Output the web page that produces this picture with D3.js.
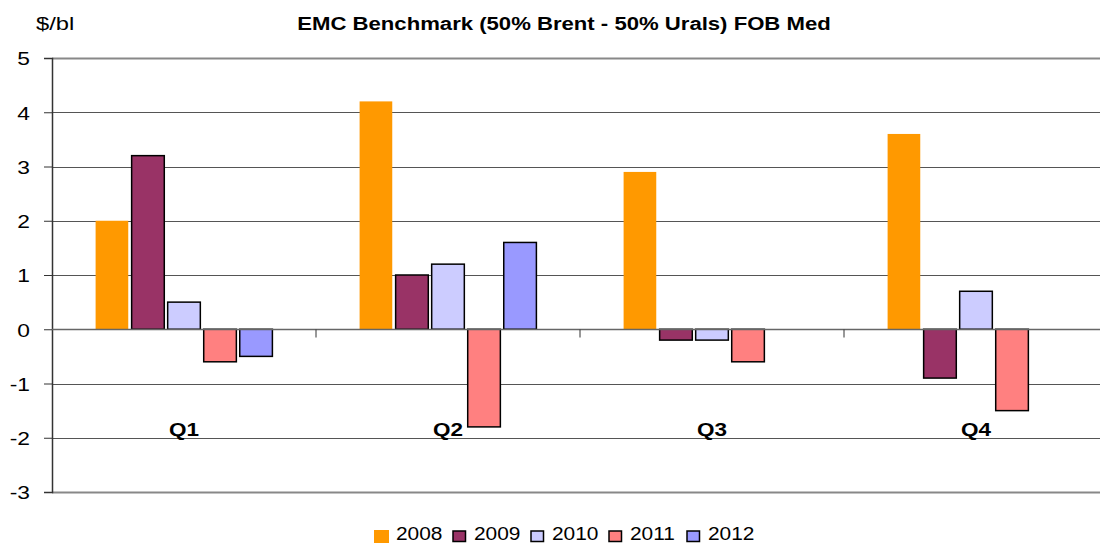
<!DOCTYPE html>
<html>
<head>
<meta charset="utf-8">
<script src="https://cdn.jsdelivr.net/npm/d3@7"></script>
<style>
  body { margin: 0; background: #fff; }
  text { font-family: "Liberation Sans", Arial, sans-serif; }
</style>
</head>
<body>
<div id="chart"></div>
<script>
// quarters and series values
const quarters = ['Q1', 'Q2', 'Q3', 'Q4']
const years = ['2008', '2009', '2010', '2011', '2012']
const v2008 = [2.0, 4.2, 2.9, 3.6]
const v2009 = [3.2, 1.0, -0.2, -0.9]
const v2010 = [0.5, 1.2, -0.2, 0.7]
const v2011 = [-0.6, -1.8, -0.6, -1.5]
const v2012 = [-0.5, 1.6, null, null]
const yTicks = [-3, -2, -1, 0, 1, 2, 3, 4, 5]

const colors = ['#FF9900', '#993366', '#CCCCFF', '#FF8080', '#9999FF']
const seriesValues = [v2008, v2009, v2010, v2011, v2012]

// build one row per quarter / year pair
const rows = []
quarters.forEach((q, qi) => {
    years.forEach((y, yi) => {
        const v = seriesValues[yi][qi]
        if (v === null) return
        rows.push({quarter: q, year: y, value: v, yi: yi})
    })
})

const width = 1100
const height = 544
const plot = {left: 52, right: 1108, top: 58, bottom: 492}

// the reference text is a bit wider than the font, stretch it sideways
const stretch = 1.23

const svg = d3.select('#chart')
    .append('svg')
    .attr('width', width)
    .attr('height', height)

const yScale = d3.scaleLinear()
    .domain([-3, 5])
    .range([plot.bottom, plot.top])

const x0 = d3.scaleBand()
    .domain(quarters)
    .range([plot.left, plot.right])

const x1 = d3.scaleBand()
    .domain(years)
    .range([0, x0.bandwidth()])
    .paddingInner(0.094)
    .paddingOuter(1.21)

// gridlines
svg.append('g')
    .selectAll('line')
    .data(yTicks)
    .enter()
    .append('line')
        .attr('x1', plot.left)
        .attr('x2', width)
        .attr('y1', d => Math.round(yScale(d)) + 0.5)
        .attr('y2', d => Math.round(yScale(d)) + 0.5)
        .attr('stroke', d => (d === 5 || d === -3) ? '#888' : '#555')
        .attr('stroke-width', d => (d === 5 || d === -3) ? 2 : 1)

// y axis
const yAxisGenerator = d3.axisLeft(yScale)
    .tickValues(yTicks)
    .tickSize(8)
    .tickFormat(d => String(d))

const yAxis = svg.append('g')
    .attr('transform', `translate(${plot.left}, 0)`)
    .call(yAxisGenerator)

yAxis.select('.domain').attr('stroke', '#333').attr('stroke-width', 1.5)
yAxis.selectAll('.tick line').attr('stroke', '#333')
yAxis.selectAll('.tick text')
    .attr('x', 0)
    .attr('dy', '0.36em')
    .attr('transform', `translate(-22, 0) scale(1.2, 1)`)
    .attr('font-size', '19px')
    .attr('fill', '#000')
    .attr('font-family', '"Liberation Sans", Arial, sans-serif')

// bars
svg.append('g')
    .selectAll('rect')
    .data(rows)
    .enter()
    .append('rect')
        .attr('x', d => x0(d.quarter) + x1(d.year))
        .attr('y', d => yScale(Math.max(0, d.value)))
        .attr('width', x1.bandwidth())
        .attr('height', d => Math.abs(yScale(d.value) - yScale(0)))
        .attr('fill', d => colors[d.yi])
        .attr('stroke', d => d.yi === 0 ? 'none' : '#000')
        .attr('stroke-width', 1.5)

// zero axis with category ticks
const zeroY = Math.round(yScale(0)) + 0.5
svg.append('line')
    .attr('x1', plot.left)
    .attr('x2', width)
    .attr('y1', zeroY)
    .attr('y2', zeroY)
    .attr('stroke', '#666')
    .attr('stroke-width', 1.5)

svg.append('g')
    .selectAll('line')
    .data(quarters.slice(1))
    .enter()
    .append('line')
        .attr('x1', d => x0(d))
        .attr('x2', d => x0(d))
        .attr('y1', zeroY)
        .attr('y2', zeroY + 8)
        .attr('stroke', '#333')

// quarter labels
svg.append('g')
    .selectAll('text')
    .data(quarters)
    .enter()
    .append('text')
        .attr('transform', d => `translate(${x0(d) + x0.bandwidth() / 2}, 436) scale(1.25, 1)`)
        .attr('text-anchor', 'middle')
        .attr('font-size', '18px')
        .attr('font-weight', 'bold')
        .text(d => d)

// title and unit
svg.append('text')
    .attr('transform', `translate(564, 30) scale(${stretch}, 1)`)
    .attr('text-anchor', 'middle')
    .attr('font-size', '18px')
    .attr('font-weight', 'bold')
    .text('EMC Benchmark (50% Brent - 50% Urals) FOB Med')

svg.append('text')
    .attr('transform', 'translate(36, 30) scale(1.25, 1)')
    .attr('font-size', '19px')
    .text('$/bl')

// legend
const legend = svg.append('g')
    .selectAll('g')
    .data(years)
    .enter()
    .append('g')
        .attr('transform', (d, i) => `translate(${374 + i * 78}, 0)`)

legend.append('rect')
    .attr('x', (d, i) => i === 0 ? 0 : 1)
    .attr('y', (d, i) => i === 0 ? 530 : 531)
    .attr('width', (d, i) => i === 0 ? 15 : 12.5)
    .attr('height', (d, i) => i === 0 ? 13 : 10.5)
    .attr('fill', (d, i) => colors[i])
    .attr('stroke', (d, i) => i === 0 ? 'none' : '#000')
    .attr('stroke-width', 1.5)

legend.append('text')
    .attr('transform', 'translate(22, 540) scale(1.1, 1)')
    .attr('font-size', '19px')
    .text(d => d)
</script>
</body>
</html>
